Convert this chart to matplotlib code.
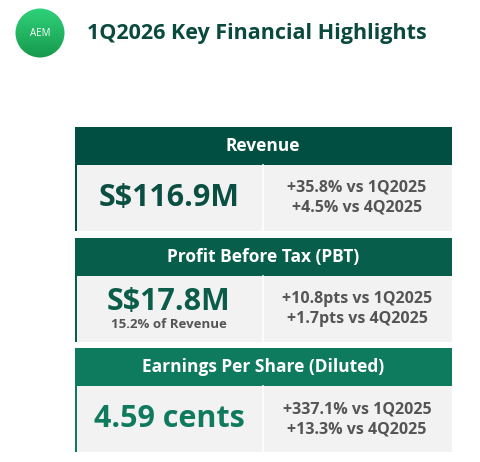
import matplotlib.pyplot as plt
from matplotlib.patches import Rectangle, Circle
import numpy as np

plt.rcParams['font.family'] = ['Open Sans', 'DejaVu Sans']

titles = ["Revenue", "Profit Before Tax (PBT)", "Earnings Per Share (Diluted)"]
values = ["S$116.9M", "S$17.8M", "4.59 cents"]
subtitles = ["", "15.2% of Revenue", ""]
vs_1q2025 = ["+35.8% vs 1Q2025", "+10.8pts vs 1Q2025", "+337.1% vs 1Q2025"]
vs_4q2025 = ["+4.5% vs 4Q2025", "+1.7pts vs 4Q2025", "+13.3% vs 4Q2025"]

header_colors = ["#014f42", "#075f4b", "#0e7b5e"]
value_colors = ["#0b4f43", "#0b5d4a", "#107a5e"]
tops = [127, 238, 348]

fig = plt.figure(figsize=(4.81, 4.62), dpi=100)
ax = fig.add_axes([0, 0, 1, 1])
ax.set_xlim(0, 481)
ax.set_ylim(462, 0)
ax.axis("off")

# logo with a simple vertical gradient
grad = np.linspace(0, 1, 100).reshape(-1, 1)
img = ax.imshow(grad, extent=(15, 65, 58, 8), cmap=plt.matplotlib.colors.LinearSegmentedColormap.from_list("g", ["#2fd27a", "#17994d"]), zorder=1)
circ = Circle((40, 33), 24.5, transform=ax.transData)
img.set_clip_path(circ)
ax.text(40, 34, "AEM", color="white", fontsize=7, ha="center", va="center", zorder=2)

ax.text(87, 34, "1Q2026 Key Financial Highlights", color="#0a4a3e", fontsize=15.5,
        fontweight="bold", ha="left", va="center")

for i in range(3):
    top = tops[i]
    ax.add_patch(Rectangle((75, top), 377, 38, color=header_colors[i], lw=0))
    ax.add_patch(Rectangle((75, top + 38), 377, 66, color="#f2f2f2", lw=0))
    ax.add_patch(Rectangle((75, top + 38), 2.5, 66, color=header_colors[i], lw=0))
    ax.plot([263, 263], [top + 38, top + 104], color="white", lw=1.2)
    ax.text(263, top + 19, titles[i], color="white", fontsize=12.5, fontweight="bold",
            ha="center", va="center")
    if subtitles[i]:
        ax.text(169, top + 64, values[i], color=value_colors[i], fontsize=22,
                fontweight="bold", ha="center", va="center")
        ax.text(169, top + 86, subtitles[i], color="#555555", fontsize=9.5,
                fontweight="bold", ha="center", va="center")
    else:
        ax.text(169, top + 71, values[i], color=value_colors[i], fontsize=22,
                fontweight="bold", ha="center", va="center")
    ax.text(357, top + 61, vs_1q2025[i], color="#555555", fontsize=11.5,
            fontweight="bold", ha="center", va="center")
    ax.text(357, top + 81, vs_4q2025[i], color="#555555", fontsize=11.5,
            fontweight="bold", ha="center", va="center")

fig.savefig("out.png", dpi=100)
